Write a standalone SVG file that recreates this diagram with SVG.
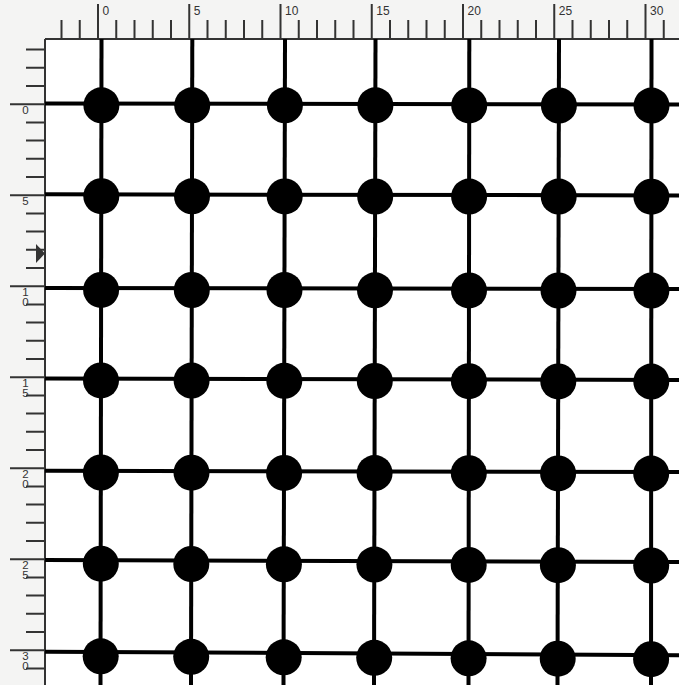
<svg xmlns="http://www.w3.org/2000/svg" width="679" height="685" viewBox="0 0 679 685">
<style>
.bg{fill:#f4f4f3}
.tick{stroke:#333;stroke-width:2;fill:none}
.lbl{font-family:"Liberation Sans",Arial,sans-serif;font-size:12px;fill:#333}
.lblv{font-family:"Liberation Sans",Arial,sans-serif;font-size:11.5px;fill:#333;text-anchor:middle}
.edge{stroke:#000;stroke-width:4;fill:none;stroke-linejoin:round}
.node{fill:#000}
</style>
<rect x="0" y="0" width="679" height="685" fill="#fff"/>
<rect class="bg" x="0" y="0" width="679" height="39"/>
<rect class="bg" x="0" y="0" width="45" height="685"/>
<g id="ruler-top">
<path class="tick" d="M61.5,20V39M79.75,20V39M116.25,20V39M134.5,20V39M152.75,20V39M171,20V39M207.5,20V39M225.75,20V39M244,20V39M262.25,20V39M298.75,20V39M317,20V39M335.25,20V39M353.5,20V39M390,20V39M408.25,20V39M426.5,20V39M444.75,20V39M481.25,20V39M499.5,20V39M517.75,20V39M536,20V39M572.5,20V39M590.75,20V39M609,20V39M627.25,20V39M663.75,20V39"/>
<path class="tick" d="M98,4V39M189.25,4V39M280.5,4V39M371.75,4V39M463,4V39M554.25,4V39M645.5,4V39"/>
<text class="lbl" x="102.5" y="15">0</text>
<text class="lbl" x="193.75" y="15">5</text>
<text class="lbl" x="285" y="15">10</text>
<text class="lbl" x="376.25" y="15">15</text>
<text class="lbl" x="467.5" y="15">20</text>
<text class="lbl" x="558.75" y="15">25</text>
<text class="lbl" x="650" y="15">30</text>
</g>
<g id="ruler-left">
<path class="tick" d="M26,49.6H45M26,67.8H45M26,86H45M26,122.4H45M26,140.6H45M26,158.8H45M26,177H45M26,213.4H45M26,231.6H45M26,249.8H45M26,268H45M26,304.4H45M26,322.6H45M26,340.8H45M26,359H45M26,395.4H45M26,413.6H45M26,431.8H45M26,450H45M26,486.4H45M26,504.6H45M26,522.8H45M26,541H45M26,577.4H45M26,595.6H45M26,613.8H45M26,632H45M26,668.4H45"/>
<path class="tick" d="M10,104.2H45M10,195.2H45M10,286.2H45M10,377.2H45M10,468.2H45M10,559.2H45M10,650.2H45"/>
<text class="lblv" x="25.5" y="114">0</text>
<text class="lblv" x="25.5" y="205">5</text>
<text class="lblv" x="25.5" y="295.5"><tspan x="25.5">1</tspan><tspan x="25.5" dy="10">0</tspan></text>
<text class="lblv" x="25.5" y="386.5"><tspan x="25.5">1</tspan><tspan x="25.5" dy="10">5</tspan></text>
<text class="lblv" x="25.5" y="477.5"><tspan x="25.5">2</tspan><tspan x="25.5" dy="10">0</tspan></text>
<text class="lblv" x="25.5" y="568.5"><tspan x="25.5">2</tspan><tspan x="25.5" dy="10">5</tspan></text>
<text class="lblv" x="25.5" y="659.5"><tspan x="25.5">3</tspan><tspan x="25.5" dy="10">0</tspan></text>
<polygon points="36,244 36,263 45,253.5" fill="#333"/>
</g>
<path class="tick" d="M45,39H679M45,39V685"/>
<g id="connectors">
<path class="edge" d="M45,103.5L679,104.4"/>
<path class="edge" d="M45,194.3L679,195.4"/>
<path class="edge" d="M45,288L679,289"/>
<path class="edge" d="M45,378.5L679,380"/>
<path class="edge" d="M45,470.7L679,472"/>
<path class="edge" d="M45,560L679,562"/>
<path class="edge" d="M45,651.7L679,655.2"/>
<path class="edge" d="M101.5,39L100.5,685"/>
<path class="edge" d="M192.3,39L191,685"/>
<path class="edge" d="M285,39L283.5,685"/>
<path class="edge" d="M375.5,39L374,685"/>
<path class="edge" d="M469.3,39L468.5,685"/>
<path class="edge" d="M559,39L557.5,685"/>
<path class="edge" d="M651.5,39L651,685"/>
</g>
<g id="n-0-0"><circle class="node" cx="101.4" cy="105.3" r="18"/></g>
<g id="n-0-1"><circle class="node" cx="192.2" cy="105.3" r="18"/></g>
<g id="n-0-2"><circle class="node" cx="284.9" cy="105.3" r="18"/></g>
<g id="n-0-3"><circle class="node" cx="375.4" cy="105.3" r="18"/></g>
<g id="n-0-4"><circle class="node" cx="469.2" cy="105.4" r="18"/></g>
<g id="n-0-5"><circle class="node" cx="558.9" cy="105.5" r="18"/></g>
<g id="n-0-6"><circle class="node" cx="651.5" cy="105.6" r="18"/></g>
<g id="n-1-0"><circle class="node" cx="101.3" cy="196.2" r="18"/></g>
<g id="n-1-1"><circle class="node" cx="192" cy="196.3" r="18"/></g>
<g id="n-1-2"><circle class="node" cx="284.7" cy="196.4" r="18"/></g>
<g id="n-1-3"><circle class="node" cx="375.2" cy="196.5" r="18"/></g>
<g id="n-1-4"><circle class="node" cx="469.1" cy="196.6" r="18"/></g>
<g id="n-1-5"><circle class="node" cx="558.7" cy="196.6" r="18"/></g>
<g id="n-1-6"><circle class="node" cx="651.4" cy="196.7" r="18"/></g>
<g id="n-2-0"><circle class="node" cx="101.1" cy="289.9" r="18"/></g>
<g id="n-2-1"><circle class="node" cx="191.8" cy="290" r="18"/></g>
<g id="n-2-2"><circle class="node" cx="284.5" cy="290.1" r="18"/></g>
<g id="n-2-3"><circle class="node" cx="375" cy="290.3" r="18"/></g>
<g id="n-2-4"><circle class="node" cx="469" cy="290.4" r="18"/></g>
<g id="n-2-5"><circle class="node" cx="558.5" cy="290.5" r="18"/></g>
<g id="n-2-6"><circle class="node" cx="651.4" cy="290.6" r="18"/></g>
<g id="n-3-0"><circle class="node" cx="101" cy="380.4" r="18"/></g>
<g id="n-3-1"><circle class="node" cx="191.6" cy="380.6" r="18"/></g>
<g id="n-3-2"><circle class="node" cx="284.3" cy="380.8" r="18"/></g>
<g id="n-3-3"><circle class="node" cx="374.8" cy="381" r="18"/></g>
<g id="n-3-4"><circle class="node" cx="468.9" cy="381.2" r="18"/></g>
<g id="n-3-5"><circle class="node" cx="558.3" cy="381.4" r="18"/></g>
<g id="n-3-6"><circle class="node" cx="651.3" cy="381.6" r="18"/></g>
<g id="n-4-0"><circle class="node" cx="100.9" cy="472.5" r="18"/></g>
<g id="n-4-1"><circle class="node" cx="191.5" cy="472.7" r="18"/></g>
<g id="n-4-2"><circle class="node" cx="284.1" cy="472.9" r="18"/></g>
<g id="n-4-3"><circle class="node" cx="374.6" cy="473.1" r="18"/></g>
<g id="n-4-4"><circle class="node" cx="468.8" cy="473.2" r="18"/></g>
<g id="n-4-5"><circle class="node" cx="558.1" cy="473.4" r="18"/></g>
<g id="n-4-6"><circle class="node" cx="651.2" cy="473.6" r="18"/></g>
<g id="n-5-0"><circle class="node" cx="100.8" cy="563.7" r="18"/></g>
<g id="n-5-1"><circle class="node" cx="191.3" cy="564" r="18"/></g>
<g id="n-5-2"><circle class="node" cx="283.9" cy="564.3" r="18"/></g>
<g id="n-5-3"><circle class="node" cx="374.4" cy="564.6" r="18"/></g>
<g id="n-5-4"><circle class="node" cx="468.7" cy="564.9" r="18"/></g>
<g id="n-5-5"><circle class="node" cx="557.9" cy="565.2" r="18"/></g>
<g id="n-5-6"><circle class="node" cx="651.2" cy="565.5" r="18"/></g>
<g id="n-6-0"><circle class="node" cx="100.7" cy="656.3" r="18"/></g>
<g id="n-6-1"><circle class="node" cx="191.2" cy="656.8" r="18"/></g>
<g id="n-6-2"><circle class="node" cx="283.7" cy="657.3" r="18"/></g>
<g id="n-6-3"><circle class="node" cx="374.2" cy="657.8" r="18"/></g>
<g id="n-6-4"><circle class="node" cx="468.6" cy="658.3" r="18"/></g>
<g id="n-6-5"><circle class="node" cx="557.7" cy="658.7" r="18"/></g>
<g id="n-6-6"><circle class="node" cx="651.1" cy="659.2" r="18"/></g>
</svg>
